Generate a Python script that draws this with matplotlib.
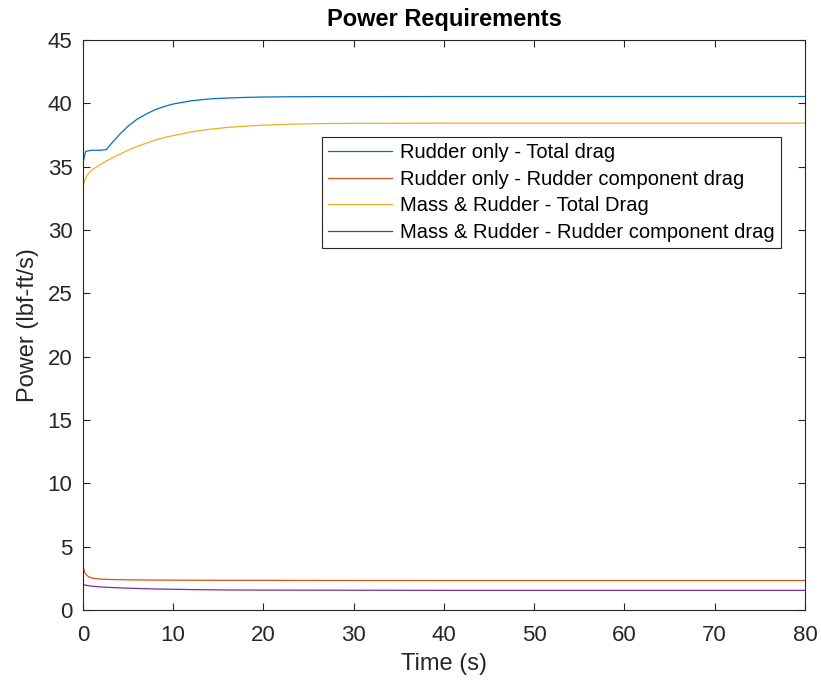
import matplotlib
matplotlib.use("Agg")
import matplotlib.pyplot as plt

plt.rcParams['font.family'] = ['Liberation Sans', 'DejaVu Sans']

# Time samples (s)
t_total = [0, 0.3, 0.6, 1.0, 2.0, 2.6, 3.0, 4.0, 5.0, 6.0, 7.0, 8.0, 9.0, 10.0, 12.0,
           14.0, 16.0, 18.0, 20.0, 23.0, 26.0, 30.0, 40.0, 50.0, 60.0, 70.0, 80.0]
rudder_only_total = [35.3, 36.2, 36.25, 36.3, 36.3, 36.35, 36.7, 37.5, 38.2, 38.75, 39.15, 39.5,
                     39.75, 39.95, 40.2, 40.35, 40.42, 40.47, 40.5, 40.52, 40.53, 40.53, 40.54,
                     40.54, 40.54, 40.54, 40.54]
mass_rudder_total = [33.5, 34.1, 34.45, 34.75, 35.2, 35.45, 35.6, 35.95, 36.3, 36.6, 36.85, 37.1,
                     37.3, 37.45, 37.75, 37.95, 38.1, 38.2, 38.28, 38.35, 38.4, 38.42, 38.44,
                     38.44, 38.44, 38.44, 38.44]

t_comp = [0, 0.1, 0.2, 0.4, 0.7, 1.0, 1.5, 2.0, 3.0, 5.0, 8.0, 12.0, 16.0, 20.0, 30.0,
          40.0, 50.0, 60.0, 70.0, 80.0]
rudder_only_comp = [3.6, 3.2, 2.95, 2.75, 2.6, 2.52, 2.47, 2.44, 2.41, 2.38, 2.36, 2.35, 2.34,
                    2.34, 2.33, 2.33, 2.33, 2.33, 2.33, 2.33]
mass_rudder_comp = [2.05, 2.0, 1.97, 1.94, 1.91, 1.88, 1.85, 1.82, 1.78, 1.72, 1.66, 1.61, 1.58,
                    1.57, 1.56, 1.55, 1.55, 1.55, 1.55, 1.55]

labels = ["Rudder only - Total drag",
          "Rudder only - Rudder component drag",
          "Mass & Rudder - Total Drag",
          "Mass & Rudder - Rudder component drag"]
colors = ["#0072BD", "#D95319", "#EDB120", "#7E2F8E"]

x_ticks = [0, 10, 20, 30, 40, 50, 60, 70, 80]
y_ticks = [0, 5, 10, 15, 20, 25, 30, 35, 40, 45]

fig = plt.figure(figsize=(8.21, 6.83), dpi=100)
ax = fig.add_axes([0.101, 0.1069, 0.8795, 0.8345])

lw = 0.9
ax.plot(t_total, rudder_only_total, color=colors[0], lw=lw, label=labels[0])
ax.plot(t_comp, rudder_only_comp, color=colors[1], lw=lw, label=labels[1])
ax.plot(t_total, mass_rudder_total, color=colors[2], lw=lw, label=labels[2])
ax.plot(t_comp, mass_rudder_comp, color=colors[3], lw=lw, label=labels[3])

ax.set_xlim(0, 80)
ax.set_ylim(0, 45)
ax.set_xticks(x_ticks)
ax.set_yticks(y_ticks)
ax.tick_params(direction='in', top=True, right=True, length=5, width=0.8,
               labelsize=16, colors='#262626')
ax.tick_params(axis='x', pad=11)
ax.tick_params(axis='y', pad=7.5)
for s in ax.spines.values():
    s.set_color('#262626')
    s.set_linewidth(0.8)

ax.set_xlabel("Time (s)", fontsize=17, color='#262626', labelpad=5)
ax.set_ylabel("Power (lbf-ft/s)", fontsize=17, color='#262626', labelpad=6)
ax.set_title("Power Requirements", fontsize=17, fontweight='bold', color='black', pad=10)

leg = ax.legend(loc='upper left', bbox_to_anchor=(0.331, 0.830), fontsize=14.5,
                frameon=True, fancybox=False, framealpha=1, edgecolor='#262626',
                handlelength=3.2, handletextpad=0.4, labelspacing=0.38,
                borderpad=0.3, borderaxespad=0)
leg.get_frame().set_linewidth(0.8)

fig.savefig("out.png", dpi=100)
